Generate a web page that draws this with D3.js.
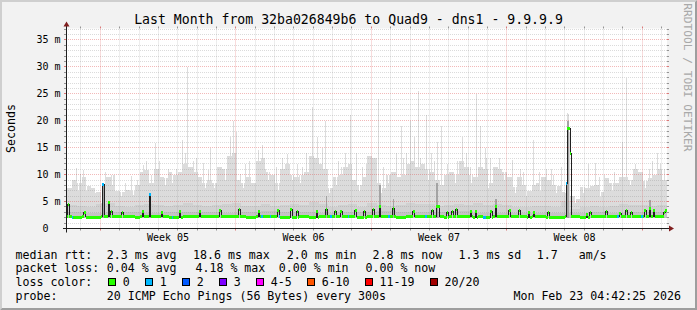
<!DOCTYPE html>
<html><head><meta charset="utf-8">
<script src="https://cdn.jsdelivr.net/npm/d3@7"></script>
<style>
html,body{margin:0;padding:0;background:#f2f2f2;}
svg{display:block;font-family:"DejaVu Sans Mono",monospace;}
</style></head><body>
<svg id="c" width="697" height="310"></svg>
<script>
// ---------------- data ----------------
const title = "Last Month from 32ba026849b6 to Quad9 - dns1 - 9.9.9.9";
const startTime = Date.UTC(2026, 0, 24, 6, 40);
const spanDays = 31;
const yMax = 37.13;
const yTickValues = [0, 5, 10, 15, 20, 25, 30, 35];
const yTickLabels = ["0", "5 m", "10 m", "15 m", "20 m", "25 m", "30 m", "35 m"];
const weekStarts = ["2026-01-26", "2026-02-02", "2026-02-09", "2026-02-16"];
const weekLabels = ["Week 05", "Week 06", "Week 07", "Week 08"];
const smokeFloor = 1.9;

// outer smoke (max ping), 6-hour buckets, ms
const smokeOuter = [7.5,9.0,8.5,9.5,7.8,7.6,6.8,8.0,9.6,10.0,
7.0,6.8,7.2,6.9,8.0,10.5,10.8,8.5,11.0,9.5,
9.4,10.5,10.0,10.5,12.0,11.5,10.5,9.5,8.5,9.0,
8.5,11.5,11.0,13.5,14.0,9.0,8.5,9.5,8.5,12.5,
13.0,10.5,10.0,8.5,11.0,12.0,10.0,9.5,10.0,10.5,
13.5,13.0,12.0,11.0,7.5,9.5,10.0,11.5,12.0,9.0,
8.0,9.5,13.5,13.0,8.5,7.5,10.0,10.5,9.5,10.0,
12.0,12.5,11.5,12.0,11.0,10.5,9.0,8.0,10.0,10.5,
10.0,12.5,11.5,10.0,9.5,11.5,11.0,8.5,11.5,11.0,
10.5,9.5,7.7,9.5,8.0,7.0,8.0,8.5,9.5,9.0,
8.0,7.8,6.7,6.5,6.0,5.4,7.7,7.5,7.8,8.0,
6.8,9.3,8.5,8.5,9.5,9.5,9.0,11.0,10.5,8.8,
9.3,10.0,11.0,9.0];
// hours where the outer smoke drops lower: hour offset, ms
const dipHour = [14,24,35,42,43,56,67,82,100,122,130,157,171,182,196,218,229,249,262,279,289,325,334,362,389,398,410,448,467,481,501,522,542,556,569,587,606,630,640,661,676,698,717];
const dipMs   = [7.0,7.0,6.5,4.8,4.8,8.0,6.0,6.2,8.5,8.0,8.5,9.0,7.5,7.5,9.0,7.5,7.5,9.0,7.0,9.0,8.5,6.5,8.0,7.0,6.5,8.5,8.0,9.0,7.0,8.5,8.5,7.5,9.0,6.5,6.0,7.0,6.5,4.8,6.5,5.8,7.0,8.0,7.5];
// thin smoke spikes: hour offset, ms
const spikeHour = [11,16,20,28,33,47,59,64,72,79,87,94,98,104,109,114,125,135,143,146,149,152,156,160,169,175,177,188,193,202,206,210,215,221,226,237,242,246,255,259,267,273,281,285,292,296,304,310,316,320,328,336,340,345,351,358,366,371,374,379,386,392,400,408,414,417,420,425,430,435,438,441,445,451,455,459,464,471,477,484,490,495,500,507,512,518,520,525,529,536,545,552,562,566,578,585,594,600,603,613,620,621,622,623,632,646,655,660,666,678,684,688,693,700,704,710,722,726,732,735,740];
const spikeMs   = [11.3,10.2,10.8,10.9,9.5,10.5,11.3,11.6,8.5,9.8,9.0,11.8,12.5,10,15.9,12.5,11,11,16.5,14,30,17,12.5,13,12.2,10.8,15,13,10.5,17,20,18,10.2,12,12.5,14.5,15.5,11,11.5,11.5,13,13.8,12,12,11.5,14,22.5,17,15,20,10,12.5,11.5,14,21,14,11.5,12,16,18,24,11.5,13,14,19,13,14,20,17,25.5,13,15,21,14,12.5,16,19,12,13,12.5,17,14,11.5,25,19,15,13,13,19.9,13,11.5,12.8,11,10.5,16.5,10.5,11,11,10,11.5,21.5,21.2,20.5,18,9.5,11.9,12.2,9.5,10,10.5,35,16,28,10.5,12,12,11,12.5,14,12,11];
// middle smoke, 12-hour buckets
const smokeMid = [4.4,4.1,4.0,4.6,4.8,4.1,4.0,4.3,4.5,4.4,
4.2,4.3,4.8,4.4,4.1,4.3,4.6,4.7,4.2,4.1,
4.6,4.2,4.4,4.5,4.4,4.9,4.6,4.0,4.4,4.5,
4.0,4.8,4.3,4.2,4.3,4.7,4.6,4.5,4.1,4.3,
4.6,4.4,4.7,4.4,4.6,4.3,3.9,4.0,4.1,4.2,
4.0,5.1,3.7,4.0,4.1,3.9,4.2,4.5,4.4,4.3,
4.2,4.3];
// core smoke, daily
const smokeCore = [3.0,2.9,3.1,3.0,2.9,3.0,3.1,3.0,2.9,3.0,3.2,3.0,3.1,2.9,3.0,3.1,3.2,3.0,3.1,3.0,3.2,2.9,2.8,2.9,2.9,2.8,2.9,3.0,2.9,3.0,3.0];
// dark smoke columns around median spikes
const darkHour = [44,102,321,387,404,458,531,620,722];
const darkMs   = [8.5,6.5,6.0,8.0,5.5,8.5,5.4,20,5.2];

// median rtt baseline, 6-hour buckets, ms
const medianBase = [2.15,2.05,2.05,2.15,2.05,2.05,2.1,2.15,2.2,2.15,
2.15,2.2,2.15,2.15,2.1,2.15,2.15,2.2,2.15,2.15,
2.2,2.05,2.05,2.1,2.15,2.15,2.2,2.15,2.2,2.15,
2.15,2.2,2.15,2.15,2.15,2.15,2.2,2.05,2.05,2.15,
2.15,2.2,2.15,2.15,2.1,2.05,2.1,2.05,2.15,2.15,
2.05,2.1,2.15,2.15,2.2,2.15,2.15,2.15,2.2,2.15,
2.05,2.1,2.15,2.2,2.15,2.15,2.2,2.15,2.05,2.1,
2.15,2.15,2.2,2.15,2.15,2.2,2.15,2.15,2.1,2.15,
2.15,2.2,2.15,2.15,2.1,2.15,2.05,2.1,2.15,2.2,
2.15,2.15,2.2,2.15,2.15,2.1,2.15,2.15,2.2,2.1,
2.05,2.05,2.1,2.15,2.2,2.15,2.05,2.05,2.15,2.15,
2.2,2.15,2.15,2.2,2.15,2.15,2.2,2.15,2.15,2.2,
2.15,2.15,2.2,2.15];
// median spikes: hour, ms, duration (h), lost pings
const medHour = [1,21,44,51,54,68,93,102,117,139,164,189,213,237,261,277,285,309,321,332,339,357,368,379,387,404,429,452,458,460,471,477,482,500,506,525,531,548,560,572,578,596,619,620,624,644,648,668,685,693,699,716,722,727,740,742];
const medMs   = [4.45,3.0,8.2,4.8,3.1,3.0,3.2,6.3,3.0,3.2,3.2,3.3,3.5,3.2,3.3,3.5,3.2,3.2,3.5,3.1,3.1,3.3,3.2,3.5,4.0,3.7,3.2,3.3,4.1,4.0,3.0,3.2,3.5,3.1,3.1,3.2,4.0,3.3,3.3,2.9,2.9,2.9,8.4,18.6,14.0,2.6,2.9,3.2,2.8,3.4,2.9,3.3,3.8,3.3,2.9,3.3];
const medDur  = [2,2,2,2,2,2,2,2,2,2,2,2,2,2,2,2,2,2,2,2,2,2,2,2,2,2,2,2,2,2,2,2,2,2,2,2,2,2,2,2,2,2,1,4,1,2,2,2,2,2,2,2,2,2,2,2];
const medLoss = [0,0,1,0,0,0,0,1,0,0,0,0,0,0,0,0,0,0,0,0,0,0,0,0,0,0,0,0,0,0,0,0,0,0,0,0,0,0,0,0,0,0,1,0,0,0,0,0,0,0,0,0,0,0,0,0];
// baseline hours with 1 lost ping
const lossHour = [6,130,241,252,262,326,348,398,444,516,682,712];
const lossDur  = [2,2,2,1,2,2,2,2,2,4,2,2];

const lossLabels = ["0","1","2","3","4-5","6-10","11-19","20/20"];
const lossColors = ["#26ff00","#00b8ff","#0059ff","#7e00ff","#ff00ff","#ff5500","#ff0000","#a10000"];

const legendRtt  = [["median rtt:",16],["2.3 ms avg",107.3],["18.6 ms max",193.5],["2.0 ms min",287.3],["2.8 ms now",373],["1.3 ms sd",459],["1.7   am/s",537.3]];
const legendLoss = [["packet loss:",16],["0.04 % avg",107.3],["4.18 % max",196],["0.00 % min",279.3],["0.00 % now",366]];
const probeText = "20 ICMP Echo Pings (56 Bytes) every 300s";
const stampText = "Mon Feb 23 04:42:25 2026";
const watermark = "RRDTOOL / TOBI OETIKER";

// ---------------- drawing ----------------
const W = 697, H = 310;
const X0 = 67, X1 = 667, Y0 = 228.5, Y1 = 28.5;
const hourMs = 3600e3;
const nH = spanDays * 24;
const endTime = startTime + nH * hourMs;
const tH = h => startTime + h * hourMs;
const x = d3.scaleUtc().domain([startTime, endTime]).range([X0, X1]);
const y = d3.scaleLinear().domain([0, yMax]).range([Y0, Y1]);
const svg = d3.select("#c");
const pre = s => s.replace(/ /g, "\u00a0");

svg.append("rect").attr("width", W).attr("height", H).attr("fill", "#f2f2f2");
svg.append("path").attr("d", `M0,${H}L2,${H-2}L2,2L${W-2},2L${W},0L0,0Z`).attr("fill", "#cfcfcf");
svg.append("path").attr("d", `M2,${H-2}L${W-2},${H-2}L${W-2},2L${W},0L${W},${H}L0,${H}Z`).attr("fill", "#9e9e9e");
svg.append("rect").attr("x", X0).attr("y", Y1).attr("width", X1 - X0).attr("height", Y0 - Y1).attr("fill", "#fff");

svg.append("clipPath").attr("id", "clip").append("rect").attr("x", X0).attr("y", Y1).attr("width", X1 - X0).attr("height", Y0 - Y1);
const plot = svg.append("g").attr("clip-path", "url(#clip)");

function stepSeries(arr, hoursPer) {
  const pts = arr.map((v, i) => ({ t: tH(i * hoursPer), v }));
  pts.push({ t: tH(arr.length * hoursPer), v: arr[arr.length - 1] });
  return pts;
}
const smokeArea = d3.area().x(d => x(d.t)).y0(y(smokeFloor)).y1(d => y(d.v)).curve(d3.curveStepAfter);

const outerH = d3.range(nH).map(h => smokeOuter[Math.floor(h / 6)]);
dipHour.forEach((h, i) => { outerH[h] = Math.min(outerH[h], dipMs[i]); });
spikeHour.forEach((h, i) => { outerH[h] = Math.max(outerH[h], spikeMs[i]); });
plot.append("path").datum(stepSeries(outerH, 1)).attr("d", smokeArea).attr("fill", "#dcdcdc").attr("shape-rendering", "crispEdges");
plot.append("path").datum(stepSeries(smokeMid, 12)).attr("d", smokeArea).attr("fill", "#d1d1d1").attr("shape-rendering", "crispEdges");
plot.append("path").datum(stepSeries(smokeCore, 24)).attr("d", smokeArea).attr("fill", "#c4c4c4").attr("shape-rendering", "crispEdges");
plot.selectAll("rect.dark").data(darkHour).join("rect").attr("class", "dark")
  .attr("x", h => x(tH(h))).attr("width", h => x(tH(h + 2)) - x(tH(h)))
  .attr("y", (h, i) => y(darkMs[i])).attr("height", (h, i) => y(smokeFloor) - y(darkMs[i]))
  .attr("fill", "#a4a4a4").attr("shape-rendering", "crispEdges");

// grid
const gridC = "rgba(143,143,143,0.32)", mgridC = "rgba(222,79,79,0.40)";
const tickC = "rgba(110,110,110,0.7)", mtickC = "rgba(210,70,70,0.7)";
const grid = svg.append("g");
d3.range(1, Math.floor(yMax) + 1).forEach(v => {
  const major = v % 5 === 0;
  const yy = Math.floor(y(v)) + 0.5;
  grid.append("line").attr("x1", X0 - 1).attr("x2", X1 + 1).attr("y1", yy).attr("y2", yy)
    .attr("stroke", major ? mgridC : gridC).attr("stroke-dasharray", "1,1");
  grid.append("line").attr("x1", X0 - 3).attr("x2", X0).attr("y1", yy).attr("y2", yy).attr("stroke", major ? mtickC : tickC);
  grid.append("line").attr("x1", X1).attr("x2", X1 + 2).attr("y1", yy).attr("y2", yy).attr("stroke", major ? mtickC : tickC);
});
d3.utcDay.range(new Date(startTime), new Date(endTime)).forEach(d => {
  const major = d.getUTCDay() === 1;
  const xx = Math.floor(x(d)) + 0.5;
  grid.append("line").attr("x1", xx).attr("x2", xx).attr("y1", Y0).attr("y2", Y1)
    .attr("stroke", major ? mgridC : gridC).attr("stroke-dasharray", "1,1");
  grid.append("line").attr("x1", xx).attr("x2", xx).attr("y1", Y0).attr("y2", Y0 + 2).attr("stroke", major ? mtickC : tickC);
  grid.append("line").attr("x1", xx).attr("x2", xx).attr("y1", Y1 - 2).attr("y2", Y1).attr("stroke", major ? mtickC : tickC);
});

// median
const medH = d3.range(nH).map(h => medianBase[Math.floor(h / 6)]);
const lossH = new Array(nH).fill(0);
lossHour.forEach((h, i) => { for (let k = 0; k < lossDur[i]; k++) lossH[h + k] = 1; });
medHour.forEach((h, i) => { for (let k = 0; k < medDur[i]; k++) { medH[h + k] = medMs[i]; lossH[h + k] = medLoss[i]; } });
const cat = l => l === 0 ? 0 : l === 1 ? 1 : l === 2 ? 2 : l === 3 ? 3 : l <= 5 ? 4 : l <= 10 ? 5 : l <= 19 ? 6 : 7;
const med = svg.append("g").attr("clip-path", "url(#clip)");
med.append("path").datum(stepSeries(medH, 1))
  .attr("d", d3.line().x(d => x(d.t)).y(d => y(d.v)).curve(d3.curveStepAfter))
  .attr("fill", "none").attr("stroke", "#202020").attr("stroke-width", 1).attr("shape-rendering", "crispEdges");
const dbl = [];
medH.forEach((v, h) => { const c = cat(lossH[h]); dbl.push({ t: tH(h), v, c }); dbl.push({ t: tH(h + 1), v, c }); });
lossColors.forEach((col, c) => {
  med.append("path").datum(dbl)
    .attr("d", d3.area().defined(d => d.c === c).x(d => x(d.t)).y0(d => y(d.v) + 1.5).y1(d => y(d.v) - 1.5))
    .attr("fill", col).attr("shape-rendering", "crispEdges");
});

// axes
svg.append("line").attr("x1", X0 - 4).attr("x2", X1 + 4).attr("y1", Y0).attr("y2", Y0).attr("stroke", "#1f1f1f");
svg.append("line").attr("x1", X0 - 0.5).attr("x2", X0 - 0.5).attr("y1", Y0 + 4).attr("y2", Y1 - 4).attr("stroke", "#1f1f1f");
svg.append("path").attr("d", `M${X1+2},${Y0-3}L${X1+2},${Y0+3}L${X1+7},${Y0}Z`).attr("fill", "#801f1f");
svg.append("path").attr("d", `M${X0-3.5},${Y1-2}L${X0+2.5},${Y1-2}L${X0-0.5},${Y1-7}Z`).attr("fill", "#801f1f");

// axis labels
yTickValues.forEach((v, i) => {
  const yy = Math.floor(y(v)) + 0.5;
  const pad = v === 0 ? 2 * 6.02 : 0;
  svg.append("text").attr("x", 60.5 - pad).attr("y", yy + 3.6).attr("text-anchor", "end")
    .attr("font-size", 10).text(pre(yTickLabels[i]));
});
weekStarts.forEach((s, i) => {
  const t = Date.parse(s + "T00:00:00Z") + 3.5 * 24 * hourMs;
  svg.append("text").attr("x", x(t)).attr("y", 241).attr("text-anchor", "middle").attr("font-size", 10).text(pre(weekLabels[i]));
});
svg.append("text").attr("transform", "translate(15,128.5) rotate(-90)").attr("text-anchor", "middle")
  .attr("font-size", 11.6).text("Seconds");
svg.append("text").attr("x", 348.5).attr("y", 23.5).attr("text-anchor", "middle").attr("font-size", 13.2).text(pre(title));
svg.append("text").attr("transform", "translate(684,3.3) rotate(90)").attr("font-size", 11.2)
  .attr("fill", "#a9a9a9").text(pre(watermark));

// legend
const LF = 11.6, CW = 6.98;
const base = [258.5, 272.3, 286.1, 300];
const lg = svg.append("g").attr("font-size", LF);
legendRtt.forEach(([s, px]) => lg.append("text").attr("x", px - 0.5).attr("y", base[0]).text(pre(s)));
legendLoss.forEach(([s, px]) => lg.append("text").attr("x", px - 0.5).attr("y", base[1]).text(pre(s)));
lg.append("text").attr("x", 15.5).attr("y", base[2]).text(pre("loss color:"));
let bx = 108.3;
lossLabels.forEach((lab, i) => {
  lg.append("rect").attr("x", Math.round(bx) + 0.5).attr("y", base[2] - 7.6).attr("width", 7).attr("height", 7)
    .attr("fill", lossColors[i]).attr("stroke", "#000").attr("stroke-width", 1);
  lg.append("text").attr("x", bx + 15 - 0.5).attr("y", base[2]).text(lab);
  bx = bx + 15 + lab.length * CW + 15;
});
lg.append("text").attr("x", 15.5).attr("y", base[3]).text("probe:");
lg.append("text").attr("x", 106.8).attr("y", base[3]).text(pre(probeText));
lg.append("text").attr("x", 681).attr("y", base[3]).attr("text-anchor", "end").text(pre(stampText));
</script>
</body></html>
